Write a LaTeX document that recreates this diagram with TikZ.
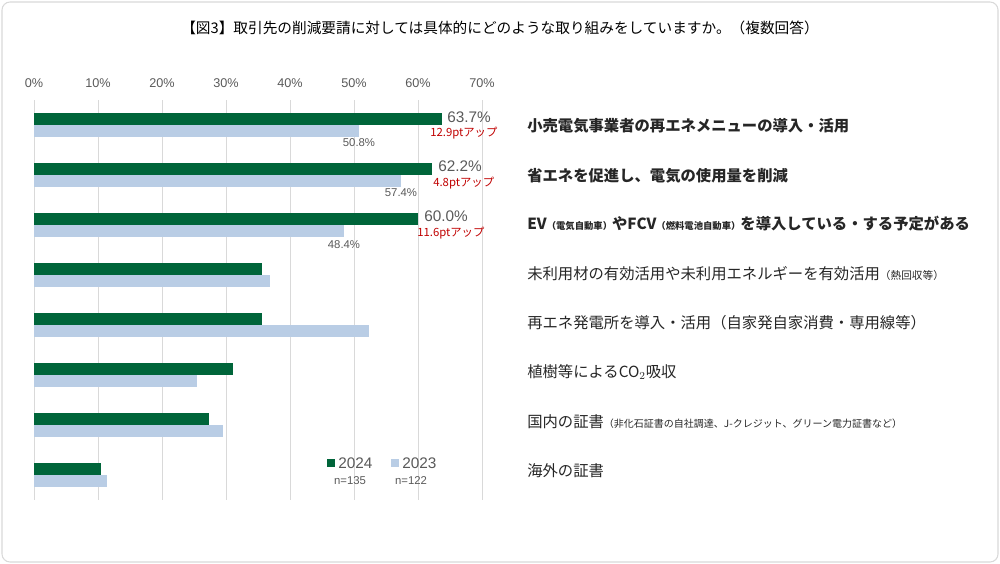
\documentclass[tikz,border=0pt]{standalone}
\usepackage{fontspec}
\setmainfont{Noto Sans CJK JP}
\newfontfamily\numf{Liberation Sans}
\definecolor{gbar}{HTML}{00653A}
\definecolor{bbar}{HTML}{B9CDE5}
\definecolor{gridc}{HTML}{D9D9D9}
\definecolor{txtc}{HTML}{595959}
\definecolor{redc}{HTML}{C00000}
\begin{document}
\begin{tikzpicture}[x=0.75pt,y=-0.75pt,
  axl/.style={font=\numf\fontsize{9.5}{11}\selectfont,text=txtc},
  lab/.style={anchor=west,font=\fontsize{11.5}{13}\selectfont,text=black!85,inner sep=0},
  blab/.style={lab,font=\bfseries\fontsize{11.5}{13}\selectfont},
  val/.style={font=\numf\fontsize{11.5}{13}\selectfont,text=txtc,anchor=west,inner sep=0},
  sval/.style={font=\numf\fontsize{8.5}{10}\selectfont,text=txtc,inner sep=0},
  up/.style={font=\fontsize{8.5}{10}\selectfont,text=redc,anchor=west,inner sep=0}]
\useasboundingbox (0,0) rectangle (1000,564);
\draw[gridc,rounded corners=6pt,line width=0.8pt] (2,2) rectangle (998,562);
\node (title) at (500,28) {\fontsize{11}{13}\selectfont 【図3】取引先の削減要請に対しては具体的にどのような取り組みをしていますか。（複数回答）};
\foreach \i in {0,...,7}{
  \draw[gridc,line width=0.6pt] ({34+64*\i},100) -- ({34+64*\i},500);
}
\node[axl] (ax0) at (34,83) {0\%};
\foreach \i in {1,...,7}{
  \node[axl] (ax\i) at ({34+64*\i},83) {\i0\%};
}
\foreach \g/\b/\r in {63.7/50.8/0,62.2/57.4/1,60.0/48.4/2,35.6/36.8/3,35.6/52.4/4,31.1/25.4/5,27.4/29.6/6,10.4/11.4/7}{
  \fill[gbar] (34,{113+50*\r}) rectangle ({34+6.4*\g},{125+50*\r});
  \fill[bbar] (34,{125+50*\r}) rectangle ({34+6.4*\b},{137+50*\r});
}
\node[val] (v1) at (447,117) {63.7\%};
\node[up] (u1) at (430,133) {12.9ptアップ};
\node[sval] (s1) at (359,143) {50.8\%};
\node[val] (v2) at (438,166) {62.2\%};
\node[up] (u2) at (433,183) {4.8ptアップ};
\node[sval] (s2) at (401,193) {57.4\%};
\node[val] (v3) at (424,216) {60.0\%};
\node[up] (u3) at (417,233) {11.6ptアップ};
\node[sval] (s3) at (344,245) {48.4\%};
\node[blab] (l1) at (527,126) {小売電気事業者の再エネメニューの導入・活用};
\node[blab] (l2) at (527,176) {省エネを促進し、電気の使用量を削減};
\node[blab] (l3) at (527,224) {EV{\fontsize{7}{8}\selectfont（電気自動車）}やFCV{\fontsize{7}{8}\selectfont（燃料電池自動車）}を導入している・する予定がある};
\node[lab] (l4) at (527,274) {未利用材の有効活用や未利用エネルギーを有効活用{\fontsize{8}{9}\selectfont（熱回収等）}};
\node[lab] (l5) at (527,323) {再エネ発電所を導入・活用（自家発自家消費・専用線等）};
\node[lab] (l6) at (527,372) {植樹等によるCO$_2$吸収};
\node[lab] (l7) at (527,422) {国内の証書{\fontsize{7.5}{9}\selectfont（非化石証書の自社調達、J-クレジット、グリーン電力証書など）}};
\node[lab] (l8) at (527,471) {海外の証書};
\fill[gbar] (327,459) rectangle (335,467);
\node[val] (lg1) at (338,463) {2024};
\fill[bbar] (391,459) rectangle (399,467);
\node[val] (lg2) at (402,463) {2023};
\node[sval] (n1) at (350,481) {n=135};
\node[sval] (n2) at (411,481) {n=122};
\end{tikzpicture}
\end{document}
